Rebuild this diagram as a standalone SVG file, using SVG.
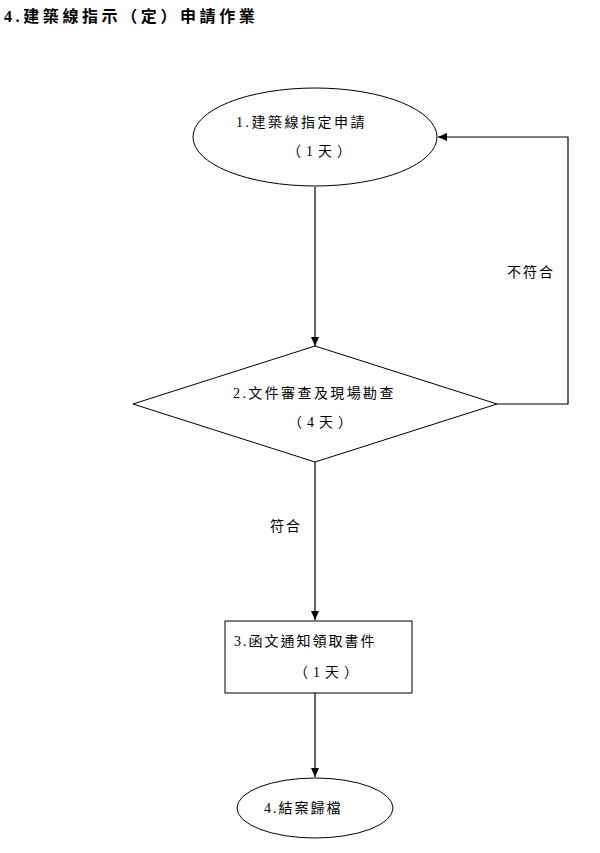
<svg xmlns="http://www.w3.org/2000/svg" width="600" height="853" viewBox="0 0 600 853">
<style>
text{font-family:"Liberation Serif","Noto Sans CJK TC",serif;fill:#000;}
.t{font-size:14px;letter-spacing:2px;}
.shape{fill:#fff;stroke:#000;stroke-width:1;}
.ln{fill:none;stroke:#000;stroke-width:1.2;}
</style>
<defs>
<marker id="ah" markerWidth="10" markerHeight="10" refX="9" refY="5" orient="auto" markerUnits="userSpaceOnUse">
<path d="M0,1 L9,5 L0,9 Z" fill="#000"/>
</marker>
</defs>
<rect width="600" height="853" fill="#fff"/>
<text x="4" y="22" style="font-size:16px;font-weight:bold;letter-spacing:3.6px">4.建築線指示（定）申請作業</text>
<g id="connectors">
<line class="ln" x1="315" y1="187" x2="315" y2="346" marker-end="url(#ah)"/>
<polyline class="ln" points="497,404 568,404 568,137 438,137" marker-end="url(#ah)"/>
<line class="ln" x1="315" y1="462" x2="315" y2="620" marker-end="url(#ah)"/>
<line class="ln" x1="315" y1="693" x2="315" y2="777" marker-end="url(#ah)"/>
<text class="t" x="507" y="277">不符合</text>
<text class="t" x="270" y="531">符合</text>
</g>
<g id="n1">
<ellipse class="shape" cx="315" cy="137" rx="122" ry="49"/>
<text class="t" x="236" y="127" style="letter-spacing:2.5px">1.建築線指定申請</text>
<text class="t" x="287" y="156" style="letter-spacing:5px">（1天）</text>
</g>
<g id="n2">
<polygon class="shape" points="315,346 497,404 315,462 133,404"/>
<text class="t" x="233" y="398" style="letter-spacing:2.4px">2.文件審查及現場勘查</text>
<text class="t" x="288" y="427" style="letter-spacing:5px">（4天）</text>
</g>
<g id="n3">
<rect class="shape" x="225" y="621" width="187" height="72"/>
<text class="t" x="234" y="646">3.函文通知領取書件</text>
<text class="t" x="294" y="677" style="letter-spacing:5px">（1天）</text>
</g>
<g id="n4">
<ellipse class="shape" cx="315" cy="808" rx="78" ry="30"/>
<text class="t" x="264" y="813">4.結案歸檔</text>
</g>
</svg>
